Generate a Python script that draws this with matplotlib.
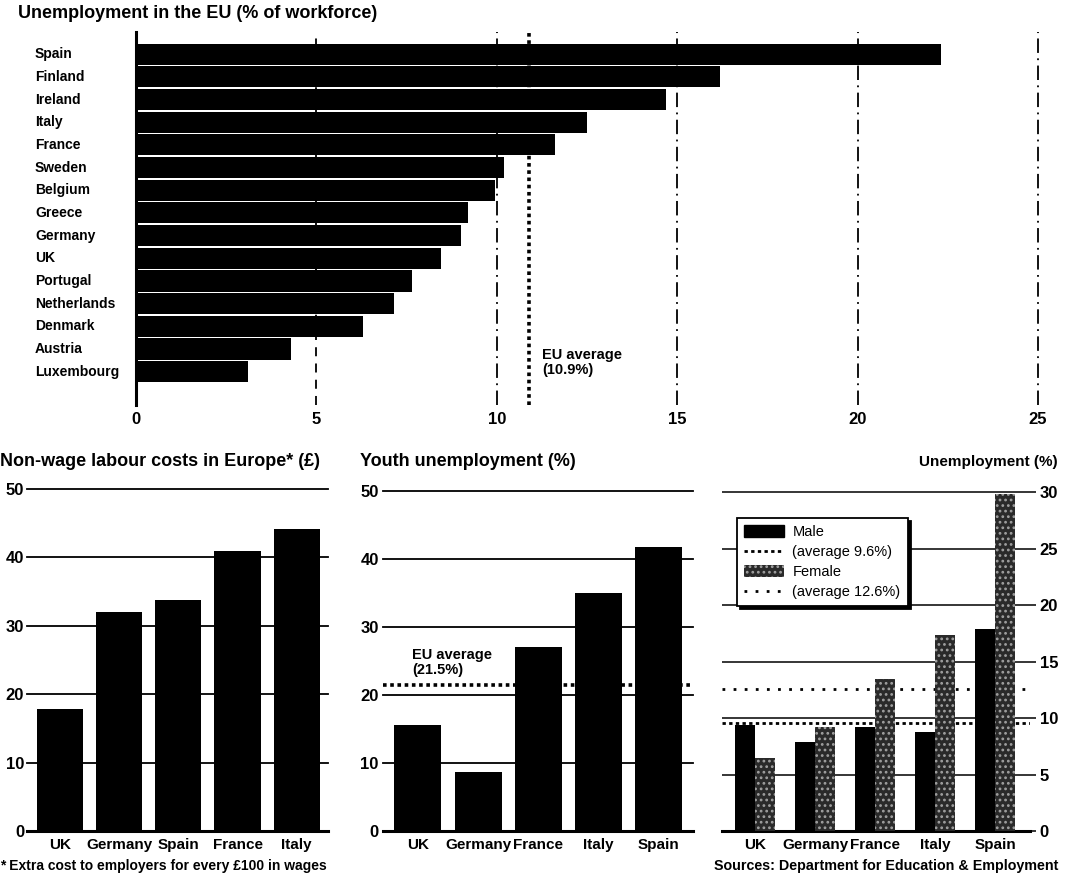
import matplotlib
matplotlib.use("Agg")
import matplotlib.pyplot as plt
from matplotlib.patches import Patch
from matplotlib.lines import Line2D
import matplotlib.transforms as mtransforms

plt.rcParams['font.family'] = ['Liberation Sans', 'DejaVu Sans']
plt.rcParams['hatch.linewidth'] = 1.2

# ---------------- data ----------------
eu_countries = ["Spain", "Finland", "Ireland", "Italy", "France", "Sweden", "Belgium",
                "Greece", "Germany", "UK", "Portugal", "Netherlands", "Denmark",
                "Austria", "Luxembourg"]
eu_unemployment = [22.3, 16.2, 14.7, 12.5, 11.6, 10.2, 9.95, 9.2, 9.0, 8.45,
                   7.65, 7.15, 6.3, 4.3, 3.1]
eu_average = 10.9
eu_ticks = [0, 5, 10, 15, 20, 25]

nonwage_countries = ["UK", "Germany", "Spain", "France", "Italy"]
nonwage_costs = [17.8, 32.0, 33.8, 41.0, 44.1]

youth_countries = ["UK", "Germany", "France", "Italy", "Spain"]
youth_unemployment = [15.6, 8.7, 27.0, 35.0, 41.8]
youth_eu_average = 21.5

gender_countries = ["UK", "Germany", "France", "Italy", "Spain"]
male_unemployment = [9.4, 7.9, 9.2, 8.75, 17.9]
female_unemployment = [6.5, 9.2, 13.5, 17.4, 29.9]
male_average = 9.6
female_average = 12.6

# ---------------- figure ----------------
W, H = 1078, 876
fig = plt.figure(figsize=(W / 100, H / 100), dpi=100)
fig.patch.set_facecolor('white')


def px_axes(x0, y0, x1, y1):
    return fig.add_axes([x0 / W, 1 - y1 / H, (x1 - x0) / W, (y1 - y0) / H])


def ftext(x, y, s, **kw):
    fig.text(x / W, 1 - y / H, s, **kw)


BOLD = dict(fontweight='bold')
TICK_FS = 12
XLAB_FS = 11

# ---------------- top chart ----------------
ax = px_axes(136, 32, 1038, 405)
n = len(eu_countries)
ypos = list(range(n))
ax.set_xlim(0, 25)
ax.set_ylim(n - 0.5 + 0.97, -0.98)
ax.barh(ypos, eu_unemployment, height=0.93, color='black', zorder=3)
ax.axvline(5, color='black', lw=1.3, ls=(0, (5, 4)), zorder=1)
for v in [10, 15, 20, 25]:
    ax.axvline(v, color='black', lw=1.3, ls=(0, (8, 3, 1, 3)), zorder=1, clip_on=False)
ax.axvline(eu_average, color='black', lw=2.6, ls=(0, (1, 1)), zorder=2)
ax.text(eu_average + 0.35, 13.6, "EU average\n(10.9%)", fontsize=10.5, fontweight='bold',
        va='center', ha='left', linespacing=1.05)
for s in ['top', 'right', 'bottom']:
    ax.spines[s].set_visible(False)
ax.spines['left'].set_linewidth(2.2)
ax.set_xticks(eu_ticks)
ax.set_xticklabels([str(t) for t in eu_ticks], fontsize=TICK_FS, fontweight='bold')
ax.tick_params(axis='x', length=0, pad=5)
ax.set_yticks([])
tr = mtransforms.blended_transform_factory(fig.transFigure, ax.transData)
for i, c in enumerate(eu_countries):
    ax.text(35 / W, i, c, transform=tr, fontsize=10, fontweight='bold', va='center', ha='left')
ftext(18, 13, "Unemployment in the EU (% of workforce)", fontsize=13, va='center', ha='left', **BOLD)

# ---------------- bottom-left chart ----------------
ax1 = px_axes(27, 489, 328, 831)
x1 = list(range(len(nonwage_countries)))
ax1.set_xlim(-0.56, 4.53)
ax1.set_ylim(0, 50)
for v in [10, 20, 30, 40, 50]:
    ax1.axhline(v, color='black', lw=1.3, zorder=1, clip_on=False)
ax1.bar(x1, nonwage_costs, width=0.78, color='black', zorder=3)
for s in ['top', 'right', 'left']:
    ax1.spines[s].set_visible(False)
ax1.spines['bottom'].set_linewidth(2.2)
ax1.set_yticks([0, 10, 20, 30, 40, 50])
ax1.set_yticklabels(['0', '10', '20', '30', '40', '50'], fontsize=TICK_FS, fontweight='bold')
ax1.tick_params(axis='y', length=0, pad=2)
ax1.set_xticks(x1)
ax1.set_xticklabels(nonwage_countries, fontsize=XLAB_FS, fontweight='bold')
ax1.tick_params(axis='x', length=0, pad=5)
ftext(0, 462, "Non-wage labour costs in Europe* (£)", fontsize=13, va='center', ha='left', **BOLD)
ftext(0, 866, "* Extra cost to employers for every £100 in wages", fontsize=10, va='center', ha='left', **BOLD)

# ---------------- bottom-middle chart ----------------
ax2 = px_axes(383, 491, 693, 831)
x2 = list(range(len(youth_countries)))
ax2.set_xlim(-0.58, 4.57)
ax2.set_ylim(0, 50)
for v in [10, 20, 30, 40, 50]:
    ax2.axhline(v, color='black', lw=1.3, zorder=1, clip_on=False)
ax2.axhline(youth_eu_average, color='black', lw=2.6, ls=(0, (1, 1)), zorder=2)
ax2.bar(x2, youth_unemployment, width=0.78, color='black', zorder=3)
ax2.text(-0.1, 24.8, "EU average\n(21.5%)", fontsize=10.5, fontweight='bold',
         va='center', ha='left', linespacing=1.05)
for s in ['top', 'right', 'left']:
    ax2.spines[s].set_visible(False)
ax2.spines['bottom'].set_linewidth(2.2)
ax2.set_yticks([0, 10, 20, 30, 40, 50])
ax2.set_yticklabels(['0', '10', '20', '30', '40', '50'], fontsize=TICK_FS, fontweight='bold')
ax2.tick_params(axis='y', length=0, pad=3)
ax2.set_xticks(x2)
ax2.set_xticklabels(youth_countries, fontsize=XLAB_FS, fontweight='bold')
ax2.tick_params(axis='x', length=0, pad=5)
ftext(360, 462, "Youth unemployment (%)", fontsize=13, va='center', ha='left', **BOLD)

# ---------------- bottom-right chart ----------------
ax3 = px_axes(722, 489, 1030, 831)
x3 = list(range(len(gender_countries)))
bw = 0.335
ax3.set_xlim(-0.55, 4.58)
ax3.set_ylim(0, 30.3)
for v in [5, 10, 15, 20, 25, 30]:
    ax3.axhline(v, color='black', lw=1.1, zorder=1)
ax3.axhline(male_average, color='black', lw=2.0, ls=(0, (1.2, 1.2)), zorder=2)
ax3.axhline(female_average, color='black', lw=2.0, ls=(0, (1, 3)), zorder=2)
ax3.bar([x - bw / 2 for x in x3], male_unemployment, width=bw, color='black', zorder=3)
ax3.bar([x + bw / 2 for x in x3], female_unemployment, width=bw, facecolor='#2a2a2a',
        edgecolor='#a0a0a0', hatch='...', linewidth=0, zorder=3)
for s in ['top', 'right', 'left']:
    ax3.spines[s].set_visible(False)
ax3.spines['bottom'].set_linewidth(2.2)
ax3.yaxis.tick_right()
ax3.set_yticks([0, 5, 10, 15, 20, 25, 30])
ax3.set_yticklabels(['0', '5', '10', '15', '20', '25', '30'], fontsize=TICK_FS, fontweight='bold')
ax3.tick_params(axis='y', length=4, width=1.1, pad=3)
ax3.set_xticks(x3)
ax3.set_xticklabels(gender_countries, fontsize=XLAB_FS, fontweight='bold')
ax3.tick_params(axis='x', length=0, pad=5)

handles = [
    Patch(facecolor='black', edgecolor='black'),
    Line2D([0], [0], color='black', lw=2.0, ls=(0, (1.2, 1.2))),
    Patch(facecolor='#2a2a2a', edgecolor='#a0a0a0', hatch='...', linewidth=0),
    Line2D([0], [0], color='black', lw=2.0, ls=(0, (1, 3))),
]
labels = ["Male", "(average 9.6%)", "Female", "(average 12.6%)"]
leg = fig.legend(handles, labels, loc='upper left', bbox_to_anchor=(737 / W, 1 - 518 / H),
                 bbox_transform=fig.transFigure, borderaxespad=0, fontsize=10.5,
                 frameon=True, fancybox=False, handlelength=2.7, handleheight=0.9,
                 labelspacing=0.4, borderpad=0.5, handletextpad=0.6,
                 shadow={'color': 'black', 'alpha': 1.0})
leg.get_frame().set_edgecolor('black')
leg.get_frame().set_linewidth(1.3)
leg.get_frame().set_facecolor('white')
leg.get_frame().set_alpha(1.0)

ftext(1058, 462, "Unemployment (%)", fontsize=11, va='center', ha='right', **BOLD)
ftext(1058, 866, "Sources: Department for Education & Employment", fontsize=10.3, va='center', ha='right', **BOLD)

fig.savefig("out.png", dpi=100, facecolor='white')
